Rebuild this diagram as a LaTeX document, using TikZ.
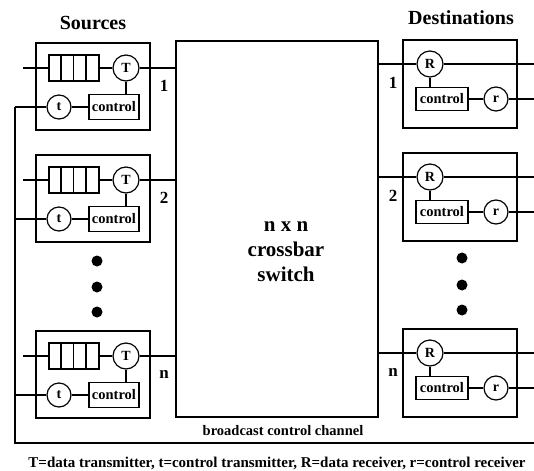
\documentclass[tikz,border=0pt]{standalone}
\usepackage{fontspec}
\setmainfont{Liberation Serif}

\begin{document}
\begin{tikzpicture}[x=1pt,y=-1pt,line width=1.2pt,
  box/.style={draw,minimum width=114pt,minimum height=87pt,inner sep=0pt},
  queue/.style={draw,minimum width=50pt,minimum height=26pt,inner sep=0pt},
  xcvr/.style={draw,circle,minimum size=26pt,inner sep=0pt,font=\fontsize{14}{14}\selectfont\bfseries},
  ctlbox/.style={draw,minimum width=50pt,minimum height=25pt,inner sep=0pt,font=\fontsize{14.5}{14.5}\selectfont\bfseries},
  num/.style={font=\fontsize{17}{17}\selectfont\bfseries},
  head/.style={font=\fontsize{20}{20}\selectfont\bfseries,anchor=base},
  dot/.style={fill,circle,minimum size=11pt,inner sep=0pt}]

\useasboundingbox (0,0) rectangle (534,470);

\node[head] (srchead) at (93,30) {Sources};
\node[head] (dsthead) at (461,25) {Destinations};

% the switch in the middle
\node[draw,minimum width=202pt,minimum height=376pt,inner sep=0pt] (sw) at (277,229) {};
\node[align=center,font=\fontsize{21}{25}\selectfont\bfseries] (swlab) at (286,252) {n x n\\crossbar\\switch};
\node[anchor=base,font=\fontsize{14.5}{15}\selectfont\bfseries] (bcast) at (283,435) {broadcast control channel};

\coordinate (inl) at (23,0);
\coordinate (bus) at (15,443);
\coordinate (busend) at (534,443);

% sources
\foreach \y/\k/\lab in {43/1/1,155/2/2,331/3/n}{
  \begin{scope}[shift={(36,\y)}]
    \node[box] (src\k) at (57,43.5) {};
    \node[queue] (q\k) at (38,25) {};
    \node[xcvr] (T\k) at (90,25) {T};
    \node[xcvr,minimum size=24pt] (t\k) at (23,64) {t};
    \node[ctlbox] (sc\k) at (78,64) {control};
    \node[num] (sn\k) at (128,43) {\lab};
  \end{scope}
  \foreach \c in {1,2,3}
    \draw ([xshift=\c*12.5pt]q\k.north west) -- ([xshift=\c*12.5pt]q\k.south west);
  \draw (q\k.west -| inl) -- (q\k.west);
  \draw (q\k.east) -- (T\k.west);
  \draw (T\k.east) -- (T\k.east -| sw.west);
  \draw (T\k.south) -- (T\k.south |- sc\k.north);
  \draw (t\k) -- (sc\k);
  \draw (t\k.west) -- (t\k.west -| bus);
}
\draw (t1.west -| bus) -- (bus) -- (busend);

% destinations
\foreach \y/\k/\lab in {40/1/1,153/2/2,329/3/n}{
  \begin{scope}[shift={(403,\y)}]
    \node[box,minimum height=88pt] (dst\k) at (57,44) {};
    \node[xcvr] (R\k) at (27,24) {R};
    \node[ctlbox,minimum width=52pt,minimum height=23pt] (dc\k) at (39,59) {control};
    \node[xcvr,minimum size=24pt] (r\k) at (93,59) {r};
    \node[num] (dn\k) at (-10,43) {\lab};
  \end{scope}
  \draw (R\k.west -| sw.east) -- (R\k.west);
  \draw (R\k.east) -- (R\k.east -| busend);
  \draw (R\k.south) -- (R\k.south |- dc\k.north);
  \draw (dc\k) -- (r\k);
  \draw (r\k.east) -- (r\k.east -| busend);
}

\node[dot] (ld1) at (97,261) {};
\node[dot] (ld2) at (97,287) {};
\node[dot] (ld3) at (97,312) {};
\node[dot] (rd1) at (462,258) {};
\node[dot] (rd2) at (462,285) {};
\node[dot] (rd3) at (462,310) {};

\node[anchor=base,font=\fontsize{15}{15}\selectfont\bfseries] (legend) at (277,467)
  {T=data transmitter, t=control transmitter, R=data receiver, r=control receiver};

\end{tikzpicture}
\end{document}
